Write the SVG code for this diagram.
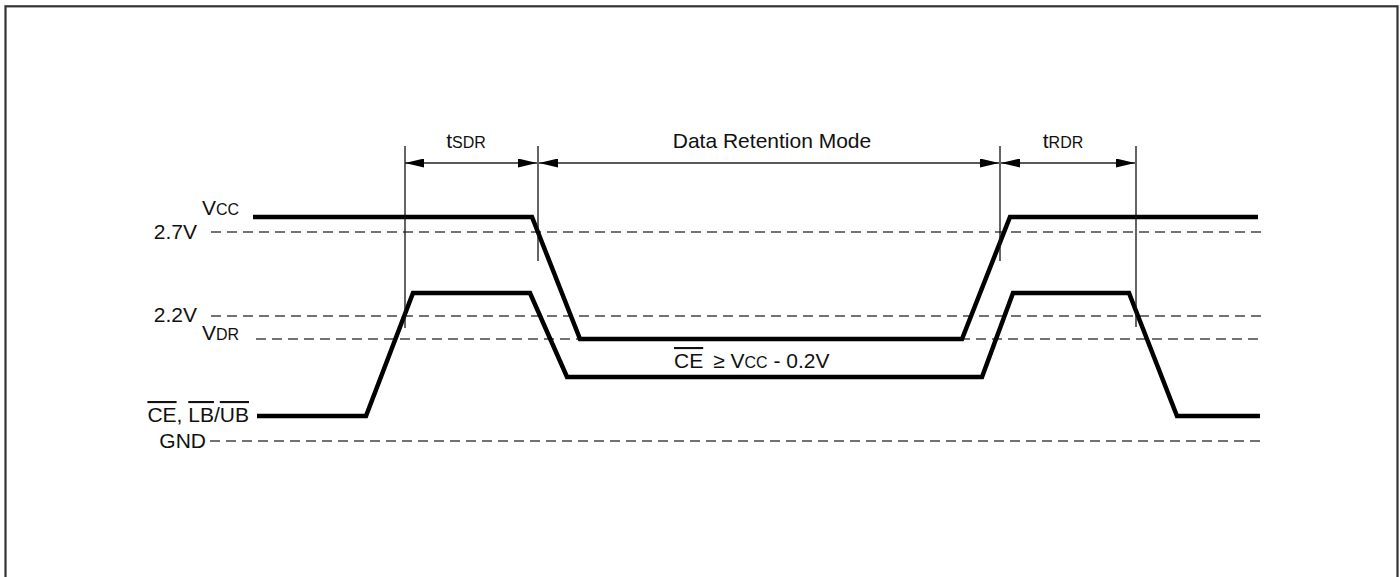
<svg xmlns="http://www.w3.org/2000/svg" width="1400" height="577" viewBox="0 0 1400 577">
  <style>
    .lbl { font-family: "Liberation Sans", Arial, sans-serif; font-size: 21px; fill: #111; }
    .sub { font-size: 16px; }
    .sig { fill: none; stroke: #000; stroke-width: 4.5; stroke-linejoin: miter; }
    .dash { fill: none; stroke: #444; stroke-width: 1.4; stroke-dasharray: 10 6; }
    .ext { fill: none; stroke: #111; stroke-width: 1.3; }
    .dim { fill: none; stroke: #222; stroke-width: 1.5; }
  </style>
  <defs>
    <marker id="ah" viewBox="0 0 19 9" refX="19" refY="4.5" markerWidth="19" markerHeight="9" markerUnits="userSpaceOnUse" orient="auto-start-reverse">
      <path d="M0,0 L19,4.5 L0,9 Z" fill="#000"/>
    </marker>
  </defs>
  <rect x="0" y="0" width="1400" height="577" fill="#fff"/>
  <rect x="5.5" y="6.3" width="1392" height="620" fill="none" stroke="#333" stroke-width="2.2"/>

  <g id="levels">
    <line class="dash" x1="211" y1="232" x2="1261" y2="232"/>
    <line class="dash" x1="211" y1="316" x2="1261" y2="316"/>
    <line class="dash" x1="256" y1="339" x2="1261" y2="339"/>
    <line class="dash" x1="210" y1="441" x2="1261" y2="441"/>
  </g>

  <g id="labels">
    <text class="lbl" x="239" y="215" text-anchor="end">V<tspan class="sub">CC</tspan></text>
    <text class="lbl" x="197" y="239" text-anchor="end">2.7V</text>
    <text class="lbl" x="197" y="322" text-anchor="end">2.2V</text>
    <text class="lbl" x="239" y="340" text-anchor="end">V<tspan class="sub">DR</tspan></text>
    <text class="lbl" x="249" y="422" text-anchor="end"><tspan text-decoration="overline">CE</tspan>, <tspan text-decoration="overline">LB</tspan>/<tspan text-decoration="overline">UB</tspan></text>
    <text class="lbl" x="206" y="448" text-anchor="end">GND</text>
  </g>

  <g id="vcc-signal">
    <path class="sig" d="M253,217 L532,217 L580,339 L962,339 L1010,217 L1258,217"/>
  </g>
  <g id="ce-signal">
    <path class="sig" d="M257,416 L366,416 L413,293 L530,293 L567,377 L982,377 L1013,293 L1129,293 L1177,416 L1260,416"/>
  </g>

  <g id="connectors">
    <line class="ext" x1="405" y1="146" x2="405" y2="328"/>
    <line class="ext" x1="538" y1="146" x2="538" y2="261"/>
    <line class="ext" x1="1000" y1="146" x2="1000" y2="261"/>
    <line class="ext" x1="1136" y1="146" x2="1136" y2="327"/>
    <line class="dim" x1="405" y1="163" x2="537" y2="163" marker-start="url(#ah)" marker-end="url(#ah)"/>
    <line class="dim" x1="539" y1="163" x2="999" y2="163" marker-start="url(#ah)" marker-end="url(#ah)"/>
    <line class="dim" x1="1001" y1="163" x2="1135" y2="163" marker-start="url(#ah)" marker-end="url(#ah)"/>
  </g>

  <g id="timing-labels">
    <text class="lbl" x="466" y="148" text-anchor="middle">t<tspan class="sub">SDR</tspan></text>
    <text class="lbl" x="772" y="148" text-anchor="middle">Data Retention Mode</text>
    <text class="lbl" x="1063" y="148" text-anchor="middle">t<tspan class="sub">RDR</tspan></text>
  </g>

  <g id="condition">
    <text class="lbl" x="674" y="368"><tspan text-decoration="overline">CE</tspan><tspan dx="10">≥ V</tspan><tspan class="sub">CC</tspan> - 0.2V</text>
  </g>
</svg>
